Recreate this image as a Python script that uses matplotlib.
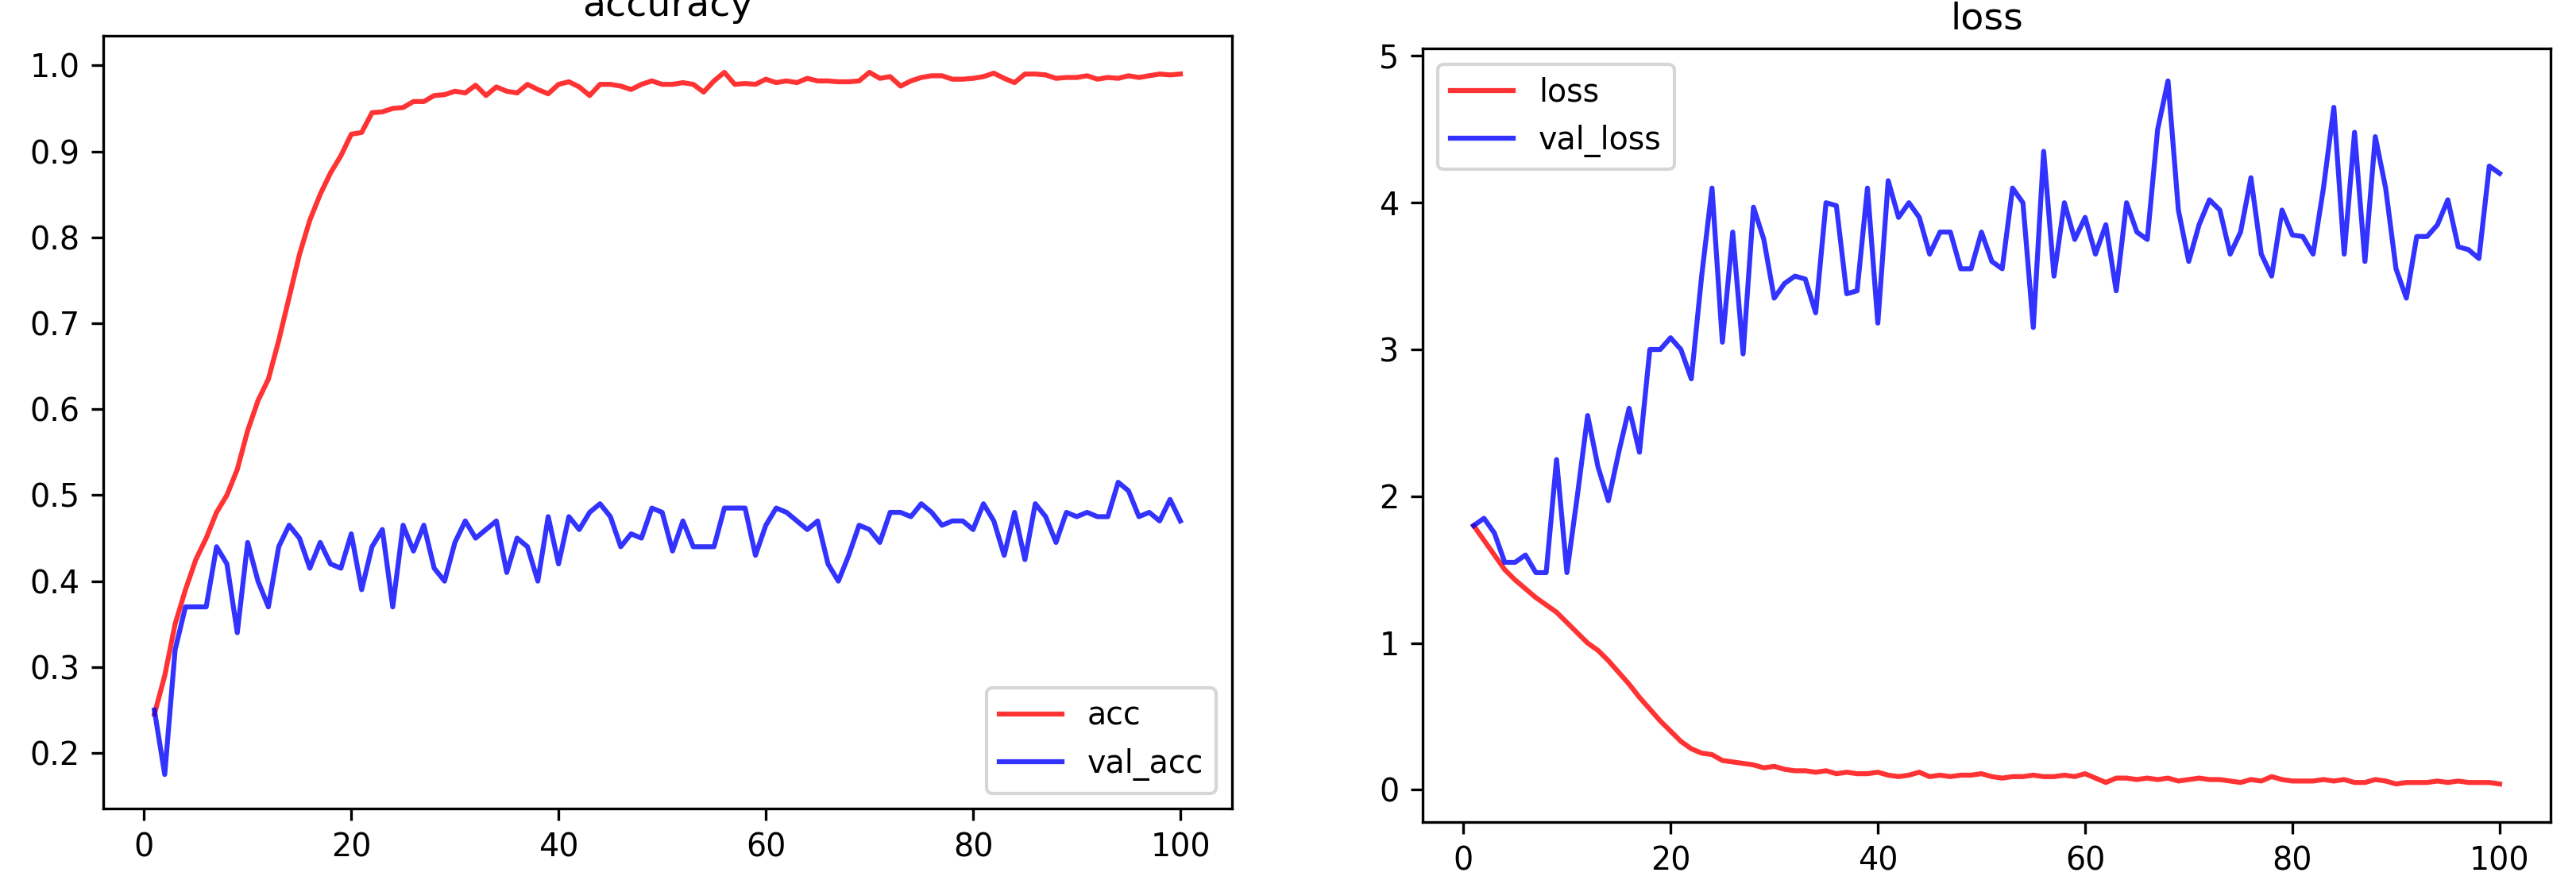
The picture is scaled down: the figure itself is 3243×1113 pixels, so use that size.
import matplotlib.pyplot as plt
import numpy as np

epochs = list(range(1, 101))

acc = [0.245, 0.29, 0.35, 0.39, 0.425, 0.45, 0.48, 0.50, 0.53, 0.575,
       0.61, 0.635, 0.68, 0.73, 0.78, 0.82, 0.85, 0.875, 0.895, 0.92,
       0.922, 0.945, 0.946, 0.95, 0.951, 0.958, 0.958, 0.965, 0.966, 0.97,
       0.968, 0.977, 0.965, 0.975, 0.97, 0.968, 0.978, 0.972, 0.967, 0.978,
       0.981, 0.975, 0.965, 0.978, 0.978, 0.976, 0.972, 0.978, 0.982, 0.978,
       0.978, 0.980, 0.978, 0.969, 0.982, 0.992, 0.978, 0.979, 0.978, 0.984,
       0.980, 0.982, 0.980, 0.985, 0.982, 0.982, 0.981, 0.981, 0.982, 0.992,
       0.985, 0.987, 0.976, 0.982, 0.986, 0.988, 0.988, 0.984, 0.984, 0.985,
       0.987, 0.991, 0.985, 0.980, 0.990, 0.990, 0.989, 0.985, 0.986, 0.986,
       0.988, 0.984, 0.986, 0.985, 0.988, 0.986, 0.988, 0.990, 0.989, 0.990]

val_acc = [0.25, 0.175, 0.32, 0.37, 0.37, 0.37, 0.44, 0.42, 0.34, 0.445,
           0.40, 0.37, 0.44, 0.465, 0.45, 0.415, 0.445, 0.42, 0.415, 0.455,
           0.39, 0.44, 0.46, 0.37, 0.465, 0.435, 0.465, 0.415, 0.40, 0.445,
           0.47, 0.45, 0.46, 0.47, 0.41, 0.45, 0.44, 0.40, 0.475, 0.42,
           0.475, 0.46, 0.48, 0.49, 0.475, 0.44, 0.455, 0.45, 0.485, 0.48,
           0.435, 0.47, 0.44, 0.44, 0.44, 0.485, 0.485, 0.485, 0.43, 0.465,
           0.485, 0.48, 0.47, 0.46, 0.47, 0.42, 0.40, 0.43, 0.465, 0.46,
           0.445, 0.48, 0.48, 0.475, 0.49, 0.48, 0.465, 0.47, 0.47, 0.46,
           0.49, 0.47, 0.43, 0.48, 0.425, 0.49, 0.475, 0.445, 0.48, 0.475,
           0.48, 0.475, 0.475, 0.515, 0.505, 0.475, 0.48, 0.47, 0.495, 0.47]

loss = [1.8, 1.7, 1.6, 1.5, 1.43, 1.37, 1.31, 1.26, 1.21, 1.14,
        1.07, 1.0, 0.95, 0.88, 0.8, 0.72, 0.63, 0.55, 0.47, 0.4,
        0.33, 0.28, 0.25, 0.24, 0.2, 0.19, 0.18, 0.17, 0.15, 0.16,
        0.14, 0.13, 0.13, 0.12, 0.13, 0.11, 0.12, 0.11, 0.11, 0.12,
        0.10, 0.09, 0.10, 0.12, 0.09, 0.10, 0.09, 0.10, 0.10, 0.11,
        0.09, 0.08, 0.09, 0.09, 0.10, 0.09, 0.09, 0.10, 0.09, 0.11,
        0.08, 0.05, 0.08, 0.08, 0.07, 0.08, 0.07, 0.08, 0.06, 0.07,
        0.08, 0.07, 0.07, 0.06, 0.05, 0.07, 0.06, 0.09, 0.07, 0.06,
        0.06, 0.06, 0.07, 0.06, 0.07, 0.05, 0.05, 0.07, 0.06, 0.04,
        0.05, 0.05, 0.05, 0.06, 0.05, 0.06, 0.05, 0.05, 0.05, 0.04]

val_loss = [1.8, 1.85, 1.75, 1.55, 1.55, 1.6, 1.48, 1.48, 2.25, 1.48,
            2.0, 2.55, 2.2, 1.97, 2.3, 2.6, 2.3, 3.0, 3.0, 3.08,
            3.0, 2.8, 3.5, 4.1, 3.05, 3.8, 2.97, 3.97, 3.75, 3.35,
            3.45, 3.5, 3.48, 3.25, 4.0, 3.98, 3.38, 3.4, 4.1, 3.18,
            4.15, 3.9, 4.0, 3.9, 3.65, 3.8, 3.8, 3.55, 3.55, 3.8,
            3.6, 3.55, 4.1, 4.0, 3.15, 4.35, 3.5, 4.0, 3.75, 3.9,
            3.65, 3.85, 3.4, 4.0, 3.8, 3.75, 4.5, 4.83, 3.95, 3.6,
            3.85, 4.02, 3.95, 3.65, 3.8, 4.17, 3.65, 3.5, 3.95, 3.78,
            3.77, 3.65, 4.1, 4.65, 3.65, 4.48, 3.6, 4.45, 4.1, 3.55,
            3.35, 3.77, 3.77, 3.85, 4.02, 3.7, 3.68, 3.62, 4.25, 4.2]

plt.rcParams['font.size'] = 9.5

fig = plt.figure(figsize=(10.813, 3.71), dpi=300)

# 左图：准确率
ax1 = fig.add_axes([0.040, 0.085, 0.438, 0.875])
ax1.plot(epochs, acc, color='red', alpha=0.8, label='acc')
ax1.plot(epochs, val_acc, color='blue', alpha=0.8, label='val_acc')
ax1.set_title('accuracy')
ax1.set_yticks(np.arange(0.2, 1.01, 0.1))
ax1.set_ylim(0.135, 1.035)
ax1.set_xticks([0, 20, 40, 60, 80, 100])
ax1.legend(loc='lower right')

# 右图：损失
ax2 = fig.add_axes([0.552, 0.07, 0.438, 0.875])
ax2.plot(epochs, loss, color='red', alpha=0.8, label='loss')
ax2.plot(epochs, val_loss, color='blue', alpha=0.8, label='val_loss')
ax2.set_title('loss')
ax2.set_ylim(-0.22, 5.05)
ax2.set_xticks([0, 20, 40, 60, 80, 100])
ax2.legend(loc='upper left')

plt.savefig('out.png', dpi=300)
